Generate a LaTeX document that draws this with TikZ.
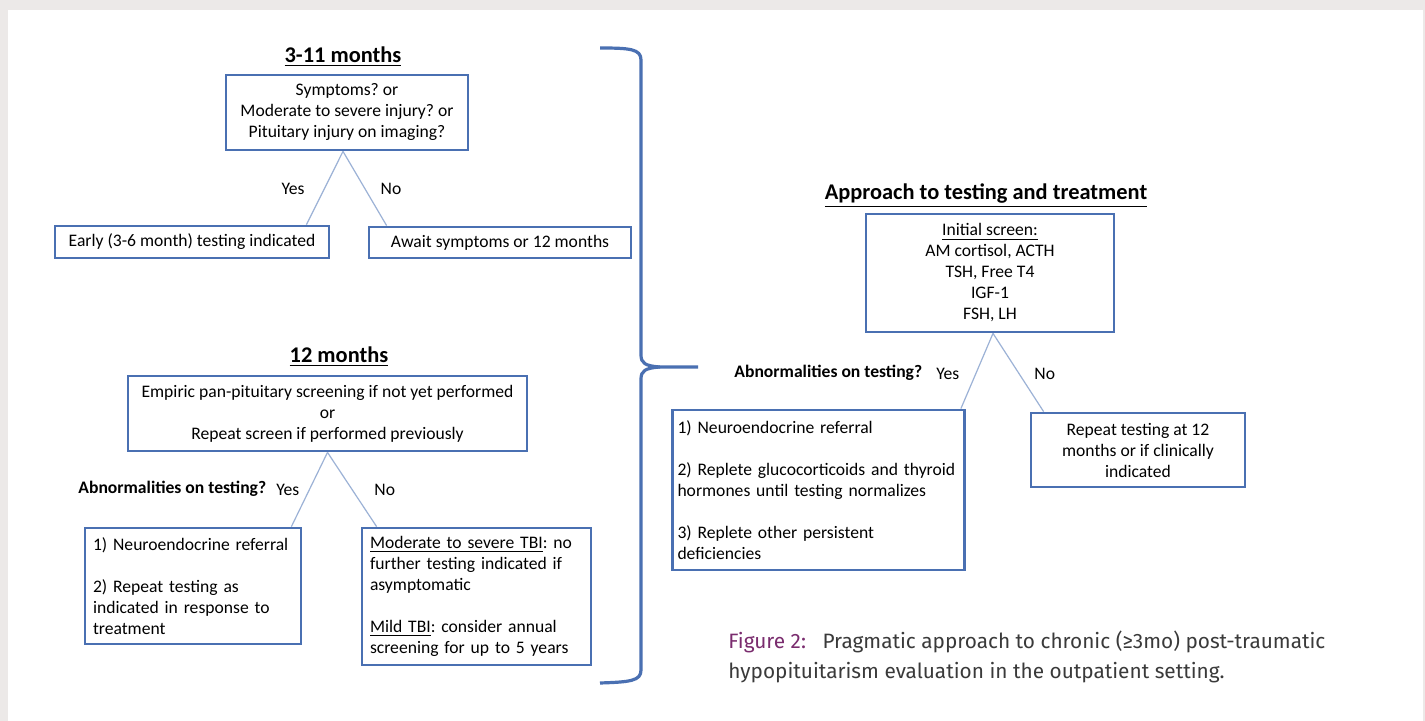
\documentclass[tikz,border=0pt]{standalone}
\usepackage{fontspec}
\setmainfont{Carlito}
\newfontfamily\capfont{Fira Sans}
\usepackage{tikz}
\usetikzlibrary{positioning,calc}
\usepackage{xcolor}
\definecolor{boxblue}{HTML}{4A70B2}
\definecolor{linkblue}{HTML}{9CB2D6}
\definecolor{framegray}{HTML}{ECE9E8}
\definecolor{figpurple}{HTML}{7A2C6E}
\definecolor{captext}{HTML}{3A3A3A}
\frenchspacing
\hyphenpenalty=10000
\tikzset{
  flowbox/.style={draw=boxblue, line width=1.4pt, inner sep=4pt, font=\fontsize{8.8}{10.5}\selectfont},
  headtxt/.style={font=\fontsize{11.2}{13}\selectfont\bfseries},
  link/.style={draw=linkblue, line width=0.6pt},
  answer/.style={font=\fontsize{8.8}{10}\selectfont, inner sep=0pt},
  asktxt/.style={font=\fontsize{8.8}{10}\selectfont\bfseries, inner sep=0pt}
}
\begin{document}
\begin{tikzpicture}[x=0.5pt,y=-0.5pt]
\useasboundingbox (0,0) rectangle (1425,721);
\fill[framegray] (0,0) rectangle (1425,721);
\fill[white] (8,10) rectangle (1423,721);

% 3-11 months
\node[headtxt] (head1) at (343,57) {\underline{3-11 months}};
\node[flowbox, minimum width=121pt, minimum height=37.5pt, align=center] (ask1) at (347,112.5)
  {Symptoms? or\\Moderate to severe injury? or\\Pituitary injury on imaging?};
\node[flowbox, minimum width=137pt, minimum height=14.5pt] (early) at (192,242) {Early (3-6 month) testing indicated};
\node[flowbox, minimum width=131pt, minimum height=14.5pt] (await) at (500,242.5) {Await symptoms or 12 months};
\coordinate (ask1tip) at ($(ask1.south)+(-4,0)$);
\draw[link] (ask1tip) -- ($(early.north east)+(-24,0)$);
\draw[link] (ask1tip) -- ($(await.north west)+(19,0)$);
\node[answer] (yes1) at (293,189) {Yes};
\node[answer] (no1) at (391,189) {No};

% 12 months
\node[headtxt] (head2) at (339,357) {\underline{12 months}};
\node[flowbox, minimum width=199.5pt, minimum height=37.5pt, align=center] (screen) at (327.5,413.5)
  {Empiric pan-pituitary screening if not yet performed\\or\\Repeat screen if performed previously};
\node[flowbox, text width=100pt, minimum height=58pt, align=left] (refer) at (193,586)
  {1) Neuroendocrine referral\\[10.5pt]2) Repeat testing as\\indicated in response to\\treatment};
\node[flowbox, text width=106.5pt, minimum height=68.5pt, align=left] (tbi) at (476.5,596.5)
  {\underline{Moderate to severe TBI}: no\\further testing indicated if\\asymptomatic\\[10.5pt]\underline{Mild TBI}: consider annual\\screening for up to 5 years};
\draw[link] (screen.south) -- ($(refer.north east)+(-11,0)$);
\draw[link] (screen.south) -- ($(tbi.north west)+(16,0)$);
\node[asktxt, anchor=west] (ask2) at (78,489) {Abnormalities on testing?};
\node[answer, anchor=west] (yes2) at (276,490) {Yes};
\node[answer, anchor=west] (no2) at (374,490) {No};

% brace
\draw[boxblue, line width=1.6pt] (600,48) .. controls (630,48) and (641,49) .. (641,60)
  -- (641,355) .. controls (641,363) and (645,366) .. (660,367) -- (698,367);
\draw[boxblue, line width=1.6pt] (660,367) .. controls (645,368) and (641,371) .. (641,379)
  -- (641,670) .. controls (641,681) and (630,682) .. (600,683);

% approach
\node[headtxt] (head3) at (986,196) {\underline{Approach to testing and treatment}};
\node[flowbox, minimum width=124pt, minimum height=59pt, align=center] (initial) at (990,273)
  {\underline{Initial screen:}\\AM cortisol, ACTH\\TSH, Free T4\\IGF-1\\FSH, LH};
\node[flowbox, inner xsep=2.5pt, text width=141pt, minimum height=80pt, align=left] (replete) at (818.5,490)
  {1) Neuroendocrine referral\\[10.5pt]2) Replete glucocorticoids and thyroid\\hormones until testing normalizes\\[10.5pt]3) Replete other persistent\\deficiencies};
\node[flowbox, minimum width=107pt, minimum height=37pt, align=center] (retest) at (1138,450)
  {Repeat testing at 12\\months or if clinically\\indicated};
\draw[link] ($(initial.south)+(3,0)$) -- ($(replete.north east)+(-5,0)$);
\draw[link] ($(initial.south)+(3,0)$) -- ($(retest.north west)+(14,0)$);
\node[asktxt, anchor=west] (ask3) at (734,373) {Abnormalities on testing?};
\node[answer, anchor=west] (yes3) at (936,374) {Yes};
\node[answer, anchor=west] (no3) at (1034,374) {No};

% caption
\node[anchor=west, inner sep=0pt, align=left, font=\capfont\fontsize{10.4}{15}\selectfont, text=captext] (caption) at (728,657)
  {{\color{figpurple}Figure 2:}\ \ \ Pragmatic approach to chronic (≥3mo) post-traumatic\\hypopituitarism evaluation in the outpatient setting.};
\end{tikzpicture}
\end{document}
